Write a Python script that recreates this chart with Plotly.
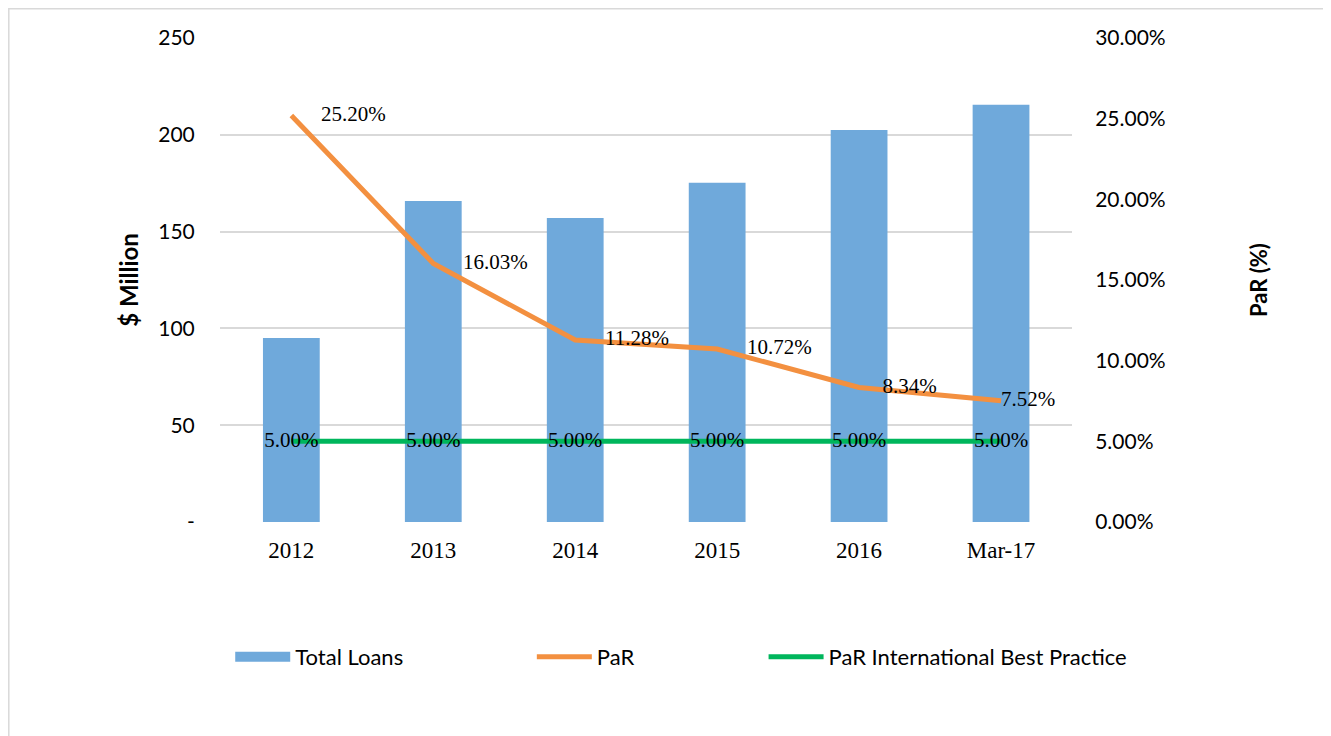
import plotly.graph_objects as go

categories = ["2012", "2013", "2014", "2015", "2016", "Mar-17"]
total_loans = [95.0, 165.8, 157.0, 175.2, 202.5, 215.5]
par = [25.20, 16.03, 11.28, 10.72, 8.34, 7.52]
par_best = [5.00, 5.00, 5.00, 5.00, 5.00, 5.00]
left_ticks = [0, 50, 100, 150, 200, 250]
left_tick_text = ["-", "50", "100", "150", "200", "250"]
right_ticks = [0, 5, 10, 15, 20, 25, 30]

BLUE = "#6FA9DB"
ORANGE = "#F39040"
GREEN = "#00B65C"
SANS = "Lato, 'Open Sans', sans-serif"
SERIF = "'Liberation Serif', 'Times New Roman', serif"

# label placement (style only): invisible marker sizes set the label offset
par_offset_size = [46, 46, 46, 46, 36, 0]

fig = go.Figure()

fig.add_trace(go.Bar(
    x=categories, y=total_loans, name="Total Loans",
    marker=dict(color=BLUE, line=dict(width=0)),
    showlegend=False, yaxis="y"))

fig.add_trace(go.Scatter(
    x=categories, y=par, name="PaR", mode="lines+markers+text",
    line=dict(color=ORANGE, width=5),
    marker=dict(size=par_offset_size, color="rgba(0,0,0,0)",
                line=dict(width=0, color="rgba(0,0,0,0)")),
    text=[f"{v:.2f}%" for v in par], textposition="middle right",
    textfont=dict(family=SERIF, size=21, color="#000000"),
    yaxis="y2", legend="legend2"))

fig.add_trace(go.Scatter(
    x=categories, y=par_best, name="PaR International Best Practice",
    mode="lines+text",
    line=dict(color=GREEN, width=5),
    text=[f"{v:.2f}%" for v in par_best], textposition="middle center",
    textfont=dict(family=SERIF, size=21, color="#000000"),
    yaxis="y2", legend="legend3"))

# legend entry for the bars (wide swatch like the original)
fig.add_trace(go.Scatter(
    x=[None], y=[None], name="Total Loans", mode="lines",
    line=dict(color=BLUE, width=14), yaxis="y", legend="legend"))

legend_common = dict(orientation="h", xanchor="left", yanchor="middle",
                     font=dict(family=SANS, size=22, color="#000000"),
                     bgcolor="rgba(0,0,0,0)", itemwidth=55)

fig.update_layout(
    width=1331, height=736,
    margin=dict(l=212, r=267, t=30, b=222),
    paper_bgcolor="white", plot_bgcolor="white",
    barmode="group", bargap=0.6,
    xaxis=dict(
        type="category", showgrid=False, zeroline=False, showline=False,
        ticks="outside", ticklen=7, tickcolor="rgba(0,0,0,0)",
        tickfont=dict(family=SERIF, size=23, color="#000000")),
    yaxis=dict(
        range=[0, 250], tickvals=left_ticks, ticktext=left_tick_text,
        showgrid=True, gridcolor="#D9D9D9", gridwidth=1.5,
        zeroline=False, showline=False,
        ticks="outside", ticklen=20, tickcolor="rgba(0,0,0,0)",
        tickfont=dict(family=SANS, size=21, color="#000000"),
        title=dict(text="$ Million", standoff=12,
                   font=dict(family=SANS, size=24, color="#000000", weight="bold"))),
    yaxis2=dict(
        range=[0, 30], tickvals=right_ticks,
        ticktext=[f"{v:.2f}%" for v in right_ticks],
        overlaying="y", side="right",
        showgrid=False, zeroline=False, showline=False,
        ticks="outside", ticklen=18, tickcolor="rgba(0,0,0,0)",
        tickfont=dict(family=SANS, size=21, color="#000000"),
        title=dict(text="PaR (%)", standoff=86,
                   font=dict(family=SANS, size=22, color="#000000", weight="bold"))),
    legend=dict(x=0.012, y=-0.279, **legend_common),
    legend2=dict(x=0.366, y=-0.279, **legend_common),
    legend3=dict(x=0.638, y=-0.279, **legend_common),
    shapes=[dict(type="rect", xref="paper", yref="paper",
                 x0=-0.2479, x1=1.32, y0=-0.48, y1=1.0604,
                 line=dict(color="#D9D9D9", width=1.5), fillcolor="rgba(0,0,0,0)",
                 layer="below")],
)

fig.write_html("out.html")
